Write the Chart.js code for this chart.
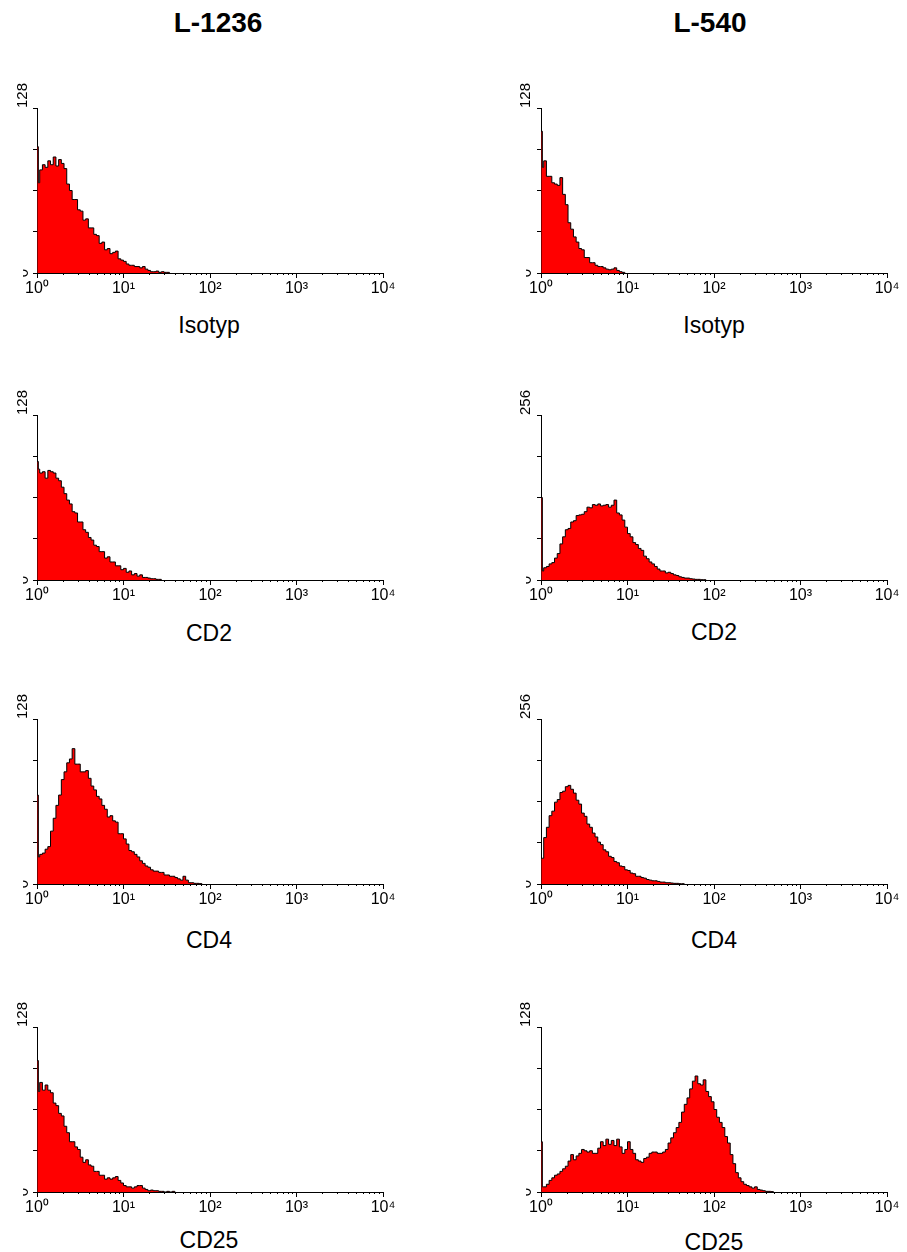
<!DOCTYPE html>
<html><head><meta charset="utf-8">
<script src="https://cdn.jsdelivr.net/npm/chart.js@4.4.1/dist/chart.umd.min.js"></script>
<style>
body{margin:0;background:#fff;width:907px;height:1252px;position:relative;overflow:hidden;font-family:"Liberation Sans",Arial,sans-serif;}
canvas{position:absolute;}
.t{position:absolute;text-align:center;color:#000;white-space:nowrap;width:240px;}
.title{font-weight:bold;font-size:28px;line-height:28px;}
.lab{font-size:23px;line-height:23px;}
</style></head><body>
<script>
// ---- data ----
const columnTitles = ['L-1236', 'L-540'];
const markers = ['Isotyp', 'CD2', 'CD4', 'CD25'];
const tickLabels = ['10⁰', '10¹', '10²', '10³', '10⁴'];
const majorTicks = [1, 10, 100, 1000, 10000];
const yMaxLeft = [128, 128, 128, 128];
const yMaxRight = [128, 256, 256, 128];
const CHANNELS_PER_DECADE = 32;
// first-channel spike heights
const spikesLeft = [98, 92, 69, 102];
const spikesRight = [110, 128, 40, 39];
// counts per channel starting at 10^0
const l1236Isotyp = [70, 80, 84, 82, 87, 84, 90, 83, 88, 85, 81, 69, 64, 57, 57, 49, 48, 41, 42, 35, 35, 30, 29, 23, 24, 18, 19, 15, 16, 17, 11, 10, 9, 7, 6, 6, 5, 5, 4, 5, 3, 2, 1, 1, 1.5, 0.5, 1, 0.5, 0.5, 0];
const l1236CD2 = [86, 83, 84, 79, 85, 84, 83, 79, 77, 72, 67, 62, 59, 53, 52, 45, 45, 39, 37, 33, 31, 27, 26, 22, 22, 17, 18, 14, 14, 11, 11, 8, 9, 6, 7, 4, 5, 3, 4, 2, 2, 1.5, 1, 1, 0.5, 0.5, 0];
const l1236CD4 = [21, 23, 24, 27, 29, 41, 51, 61, 69, 81, 87, 94, 97, 105, 93, 93, 87, 87, 88, 82, 76, 73, 68, 66, 61, 58, 52, 53, 49, 48, 39, 39, 35, 31, 26, 25, 23, 21, 18, 16, 14, 13, 11, 10, 10, 9, 9, 7, 7, 6, 6, 5, 4, 3, 6, 3, 1, 1, 0.5, 0.5, 0.3, 0];
const l1236CD25 = [78, 85, 79, 83, 79, 77, 69, 67, 61, 59, 51, 46, 39, 39, 35, 33, 27, 23, 25, 21, 20, 16, 16, 13, 13, 10, 11, 10, 11, 12, 9, 7, 5, 4, 4, 3, 4, 5, 5, 3, 2, 1, 1.5, 1, 1, 0.5, 0.5, 0, 0.5, 0, 0.5, 0];
const l540Isotyp = [82, 87, 75, 75, 70, 69, 68, 74, 61, 53, 39, 34, 28, 24, 19, 18, 12, 12, 8, 8, 6, 5, 5, 4, 3, 2.5, 3, 4, 2, 1, 0.5, 0];
const l540CD2 = [14, 19, 21, 25, 27, 34, 41, 56, 67, 78, 80, 90, 92, 100, 101, 102, 106, 113, 112, 117, 116, 118, 115, 116, 117, 113, 116, 124, 104, 101, 93, 82, 72, 67, 58, 55, 49, 46, 37, 33, 28, 25, 21, 17, 14, 14, 11, 12, 10, 8, 7, 5, 4, 3, 3, 2, 1.5, 1, 1, 0.5, 0.5, 0];
const l540CD4 = [40, 72, 88, 106, 113, 127, 131, 142, 144, 151, 153, 147, 141, 130, 124, 110, 105, 93, 88, 79, 73, 65, 61, 53, 50, 43, 41, 35, 33, 28, 27, 22, 21, 17, 16, 12, 12, 10, 9, 7, 6, 5, 5, 4, 3, 3, 2, 2, 1.5, 1, 1, 0.5, 0.5, 0];
const l540CD25 = [4, 4, 6, 9, 11, 13, 14, 16, 18, 20, 24, 29, 25, 28, 30, 33, 32, 31, 32, 30, 30, 34, 39, 36, 41, 37, 40, 36, 41, 35, 30, 33, 39, 33, 30, 25, 24, 23, 26, 27, 30, 31, 31, 30, 30, 31, 33, 38, 42, 46, 50, 54, 62, 68, 73, 80, 86, 90, 84, 83, 87, 78, 74, 70, 64, 58, 54, 50, 43, 38, 29, 22, 15, 11, 8, 6, 5, 4, 3, 4, 2, 1.5, 1, 0.5, 0.5, 0.3, 0];
const countsLeft = [l1236Isotyp, l1236CD2, l1236CD4, l1236CD25];
const countsRight = [l540Isotyp, l540CD2, l540CD4, l540CD25];

// ---- layout ----
const FONT = '"Liberation Sans", Arial, sans-serif';
const rowPlotTops = [108, 415, 719, 1027];
const PLOT_H = 165, PAD_TOP = 28, X_AXIS_H = 32;
const colCfgs = [
  {left: 0, width: 400, yTopW: 23, yW: 14, padR: 17, zeroPad: 5, titleX: 218, labX: 209, labBase: [333, 641, 948, 1248]},
  {left: 500, width: 407, yTopW: 26, yW: 15, padR: 20, zeroPad: 6, titleX: 710, labX: 714, labBase: [333, 640, 948, 1250]}
];
const SPIKE_WIDTH = 1 / 64;
const minorTicks = [];
majorTicks.slice(0, 4).forEach(d => { for (let m = 1; m < 10; m++) minorTicks.push(d * m); });
minorTicks.push(10000);

function histogramPoints(spike, counts) {
  const pts = [{x: 1, y: 0}, {x: 1, y: spike}];
  counts.forEach((c, i) => {
    const dec = i === 0 ? SPIKE_WIDTH : i / CHANNELS_PER_DECADE;
    pts.push({x: Math.pow(10, dec), y: c});
  });
  return pts;
}

function addText(cls, txt, cx, top) {
  const d = document.createElement('div');
  d.className = 't ' + cls;
  d.textContent = txt;
  d.style.left = (cx - 120) + 'px';
  d.style.top = top + 'px';
  document.body.appendChild(d);
}

function makeChart(col, row, counts, spike, yMax) {
  const cc = colCfgs[col];
  const canvas = document.createElement('canvas');
  canvas.width = cc.width; canvas.height = PAD_TOP + PLOT_H + X_AXIS_H;
  canvas.style.left = cc.left + 'px';
  canvas.style.top = (rowPlotTops[row] - PAD_TOP) + 'px';
  document.body.appendChild(canvas);
  const step = yMax / 4;
  const yTicks = [0, step, 2 * step, 3 * step, yMax];
  new Chart(canvas, {
    type: 'line',
    data: {datasets: [{
      data: histogramPoints(spike, counts), stepped: true, fill: 'origin',
      backgroundColor: '#ff0000', borderColor: '#000', borderWidth: 1,
      pointRadius: 0, tension: 0
    }]},
    options: {
      responsive: false, animation: false, devicePixelRatio: 1,
      layout: {padding: {top: PAD_TOP, right: cc.padR, bottom: 0, left: 0}},
      plugins: {legend: {display: false}, tooltip: {enabled: false}},
      scales: {
        x: {
          type: 'logarithmic', position: 'bottom', min: 1, max: 10000, weight: 0,
          afterFit: s => { s.height = 0; },
          afterBuildTicks: s => { s.ticks = minorTicks.map(v => ({value: v})); },
          grid: {drawOnChartArea: false, tickLength: 2, color: '#000', lineWidth: 1},
          border: {display: true, color: '#000', width: 1},
          ticks: {display: false}
        },
        xMajor: {
          type: 'logarithmic', axis: 'x', position: 'bottom', min: 1, max: 10000, weight: 1,
          afterFit: s => { s.height = X_AXIS_H; },
          afterBuildTicks: s => { s.ticks = majorTicks.map(v => ({value: v})); },
          grid: {drawOnChartArea: false, tickLength: 5, color: '#000', lineWidth: 1},
          border: {display: false},
          ticks: {autoSkip: false, maxRotation: 0, minRotation: 0, padding: 1, color: '#000',
            font: {family: FONT, size: 16}, callback: (v, i) => tickLabels[i]}
        },
        y: {
          type: 'linear', position: 'left', min: 0, max: yMax, weight: 0,
          afterFit: s => { s.width = cc.yW; },
          afterBuildTicks: s => { s.ticks = yTicks.map(v => ({value: v})); },
          grid: {drawOnChartArea: false, tickLength: 4, color: '#000', lineWidth: 1},
          border: {display: true, color: '#000', width: 1},
          ticks: {minRotation: 90, maxRotation: 90, crossAlign: 'center', padding: cc.zeroPad, color: '#000',
            font: {family: FONT, size: 15}, callback: v => (v === 0 ? '0' : '')}
        },
        yTop: {
          type: 'linear', axis: 'y', position: 'left', min: 0, max: yMax, weight: 1,
          afterFit: s => { s.width = cc.yTopW; },
          afterBuildTicks: s => { s.ticks = [{value: yMax}]; },
          grid: {display: false}, border: {display: false},
          ticks: {mirror: true, crossAlign: 'near', padding: 0, minRotation: 90, maxRotation: 90, color: '#000',
            font: {family: FONT, size: 15}, callback: () => String(yMax)}
        }
      }
    }
  });
}

columnTitles.forEach((t, c) => addText('title', t, colCfgs[c].titleX, 9));
markers.forEach((m, r) => {
  makeChart(0, r, countsLeft[r], spikesLeft[r], yMaxLeft[r]);
  makeChart(1, r, countsRight[r], spikesRight[r], yMaxRight[r]);
  addText('lab', m, colCfgs[0].labX, colCfgs[0].labBase[r] - 19.5);
  addText('lab', m, colCfgs[1].labX, colCfgs[1].labBase[r] - 19.5);
});
</script></body></html>
